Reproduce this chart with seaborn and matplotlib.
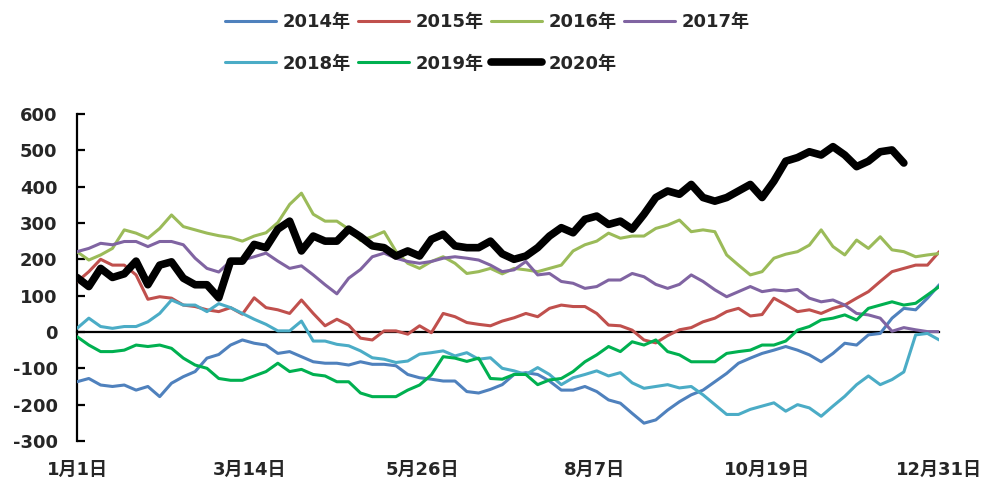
import numpy as np
import pandas as pd
import matplotlib
matplotlib.use("Agg")
import matplotlib.pyplot as plt
import seaborn as sns

# day of year (0 = 1月1日), sampled every 5 days
days = np.arange(0, 366, 5)

y2014 = [-137, -128, -146, -150, -146, -160, -150, -178, -141, -123, -109, -72, -62,
         -36, -22, -31, -36, -59, -54, -68, -82, -86, -86, -91, -82,
         -89, -89, -93, -117, -126, -130, -135, -135, -164, -168, -158, -145,
         -117, -112, -117, -135, -160, -160, -150, -164, -187, -196, -224, -251,
         -242, -215, -192, -173, -160, -137, -114, -86, -72, -59, -50, -40,
         -50, -63, -82, -59, -31, -36, -8, -4, 38, 65, 61, 93, 130]
y2015 = [138, 166, 200, 184, 184, 157, 90, 97, 93, 74, 70, 61, 56,
         67, 49, 94, 67, 61, 51, 88, 51, 17, 35, 19, -17,
         -22, 3, 3, -6, 17, -2, 51, 42, 26, 21, 17, 30,
         39, 51, 42, 65, 74, 70, 70, 51, 19, 17, 5, -22,
         -30, -10, 6, 12, 28, 38, 56, 65, 44, 48, 93, 75,
         56, 61, 51, 65, 74, 93, 111, 139, 166, 175, 184, 184, 221]
y2016 = [221, 198, 212, 230, 281, 272, 258, 285, 322, 290, 281, 272, 265,
         260, 250, 264, 273, 301, 351, 382, 324, 305, 305, 283, 252,
         262, 276, 222, 189, 175, 194, 207, 189, 161, 166, 175, 160,
         175, 171, 166, 175, 184, 223, 240, 250, 272, 258, 264, 264,
         285, 294, 308, 276, 281, 276, 212, 184, 157, 166, 203, 214,
         221, 239, 281, 235, 212, 253, 230, 262, 226, 221, 207, 212, 216]
y2017 = [221, 230, 244, 240, 249, 249, 235, 249, 249, 240, 203, 175, 165,
         195, 198, 207, 217, 195, 175, 182, 157, 130, 105, 148, 172,
         207, 217, 203, 194, 189, 194, 203, 207, 203, 198, 184, 166,
         171, 194, 157, 161, 139, 134, 120, 125, 143, 143, 161, 152,
         131, 120, 131, 157, 139, 116, 97, 111, 125, 111, 116, 113,
         117, 93, 83, 88, 74, 51, 47, 38, 2, 12, 6, 1, 1]
y2018 = [10, 38, 15, 10, 15, 15, 28, 51, 88, 74, 74, 56, 78,
         67, 51, 35, 21, 3, 3, 30, -25, -25, -34, -38, -52,
         -71, -75, -84, -80, -61, -57, -52, -66, -57, -75, -71, -100,
         -107, -117, -98, -117, -145, -126, -117, -107, -121, -112, -140, -155,
         -150, -145, -154, -150, -173, -200, -227, -227, -213, -204, -195, -218,
         -200, -209, -232, -204, -177, -145, -121, -145, -131, -110, -8, -4, -22]
y2019 = [-13, -36, -54, -54, -50, -36, -40, -36, -45, -72, -91, -100, -128,
         -133, -133, -121, -109, -86, -109, -103, -117, -121, -137, -137, -168,
         -178, -178, -178, -160, -146, -118, -68, -72, -81, -72, -128, -130,
         -117, -117, -145, -132, -128, -109, -82, -63, -40, -54, -27, -36,
         -22, -54, -63, -82, -82, -82, -59, -54, -50, -36, -36, -25,
         5, 15, 33, 38, 47, 33, 65, 74, 83, 74, 79, 102, 125]
y2020 = [150, 125, 175, 150, 160, 195, 130, 184, 193, 148, 130, 130, 94,
         195, 195, 241, 232, 283, 305, 223, 264, 250, 250, 283, 262,
         237, 232, 209, 223, 209, 255, 269, 237, 232, 232, 250, 215,
         200, 209, 232, 264, 287, 273, 310, 319, 296, 305, 283, 324,
         370, 388, 379, 406, 370, 360, 370, 388, 406, 370, 415, 470,
         480, 496, 487, 510, 487, 455, 470, 496, 501, 465, np.nan, np.nan, np.nan]

years = ['2014年', '2015年', '2016年', '2017年', '2018年', '2019年', '2020年']
colors = ['#4F81BD', '#C0504D', '#9BBB59', '#8064A2', '#4BACC6', '#00B050', '#000000']
series = [y2014, y2015, y2016, y2017, y2018, y2019, y2020]

tick_days = [0, 73, 146, 219, 292, 365]
tick_labels = ['1月1日', '3月14日', '5月26日', '8月7日', '10月19日', '12月31日']

sns.set_theme(style='white')
plt.rcParams['font.family'] = ['DejaVu Sans', 'Noto Sans CJK SC']
plt.rcParams['font.weight'] = 'bold'
plt.rcParams['axes.unicode_minus'] = False

fig = plt.figure(figsize=(9.95, 4.87), dpi=100)
ax = fig.add_axes([0.0774, 0.0945, 0.8666, 0.6715])

for year, color, vals in zip(years, colors, series):
    df = pd.DataFrame({'day': days, 'value': vals}).dropna()
    lw = 5.5 if year == '2020年' else 2.2
    sns.lineplot(data=df, x='day', y='value', color=color, lw=lw, ax=ax,
                 label=year, zorder=3)

if ax.get_legend() is not None:
    ax.get_legend().remove()

ax.set_xlim(0, 365)
ax.set_ylim(-300, 600)
ax.set_yticks(range(-300, 601, 100))
ax.set_xlabel('')
ax.set_ylabel('')

for side in ['top', 'right']:
    ax.spines[side].set_visible(False)
ax.spines['left'].set_color('black')
ax.spines['left'].set_linewidth(1.6)
ax.spines['bottom'].set_position(('data', 0))
ax.spines['bottom'].set_color('black')
ax.spines['bottom'].set_linewidth(1.6)

ax.set_xticks(tick_days)
ax.tick_params(axis='x', direction='in', length=5, width=1.6, color='black',
               labelbottom=False)
ax.tick_params(axis='y', direction='in', length=6, width=1.6, color='black',
               labelsize=13, pad=14, left=True)

sec = ax.secondary_xaxis(0.0)
sec.set_xticks(tick_days, tick_labels)
sec.spines['bottom'].set_visible(False)
sec.tick_params(axis='x', length=0, labelsize=13, pad=14)

handles, labels = ax.get_legend_handles_labels()
order = [0, 4, 1, 5, 2, 6, 3]
fig.legend([handles[i] for i in order], [labels[i] for i in order],
           loc='center', bbox_to_anchor=(0.49, 0.912), ncol=4, frameon=False,
           fontsize=13, handlelength=2.8, handletextpad=0.4,
           columnspacing=0.4, labelspacing=1.3)

fig.savefig('out.png', dpi=100)
